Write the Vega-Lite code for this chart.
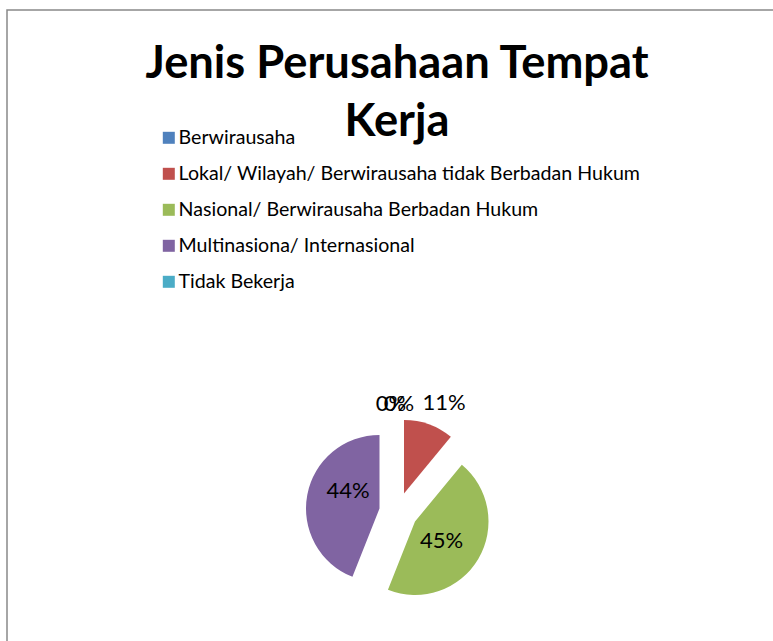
{
  "$schema": "https://vega.github.io/schema/vega-lite/v6.json",
  "width": 768,
  "height": 633,
  "autosize": "none",
  "padding": {"left": 7, "top": 10, "right": -2, "bottom": -2},
  "background": "white",
  "view": {"stroke": "#898989", "strokeWidth": 1.5},
  "config": {"view": {"stroke": "#898989", "strokeWidth": 1.5}, "style": {"cell": {"stroke": "#898989", "strokeWidth": 1.5}}, "font": "Lato"},
  "title": {
    "text": ["Jenis Perusahaan Tempat", "Kerja"],
    "font": "Lato",
    "fontSize": 45.3,
    "fontWeight": "bold",
    "color": "black",
    "anchor": "middle",
    "frame": "group",
    "lineHeight": 58,
    "orient": "top",
    "baseline": "alphabetic",
    "offset": -171,
    "dx": 6
  },
  "data": {
    "values": [
      {"category": "Berwirausaha", "share": 0, "order": 1},
      {"category": "Lokal/ Wilayah/ Berwirausaha tidak Berbadan Hukum", "share": 0.11, "order": 2},
      {"category": "Nasional/ Berwirausaha Berbadan Hukum", "share": 0.45, "order": 3},
      {"category": "Multinasiona/ Internasional", "share": 0.44, "order": 4},
      {"category": "Tidak Bekerja", "share": 0, "order": 5}
    ]
  },
  "transform": [
    {"stack": "share", "groupby": [], "sort": [{"field": "order"}], "as": ["s0", "s1"]}
  ],
  "layer": [
    {
      "transform": [{"filter": "datum.order === 2"}],
      "mark": {"type": "arc", "radius": 73.5, "xOffset": 13, "yOffset": 167},
      "encoding": {
        "theta": {"field": "s0", "type": "quantitative", "scale": {"domain": [0, 1]}},
        "theta2": {"field": "s1"},
        "color": {
          "field": "category", "type": "nominal",
          "scale": {
            "domain": ["Berwirausaha", "Lokal/ Wilayah/ Berwirausaha tidak Berbadan Hukum", "Nasional/ Berwirausaha Berbadan Hukum", "Multinasiona/ Internasional", "Tidak Bekerja"],
            "range": ["#4F81BD", "#C0504D", "#9BBB59", "#8064A2", "#4BACC6"]
          },
          "sort": null,
          "legend": {
            "orient": "none", "legendX": 152, "legendY": 118, "title": null,
            "symbolType": "square", "symbolSize": 144, "symbolStrokeWidth": 0, "symbolOpacity": 1,
            "labelFont": "Lato", "labelFontSize": 19.6, "labelColor": "black", "labelLimit": 0,
            "rowPadding": 15, "labelOffset": 0
          }
        }
      }
    },
    {
      "transform": [{"filter": "datum.order === 3"}],
      "mark": {"type": "arc", "radius": 73.5, "xOffset": 24, "yOffset": 195},
      "encoding": {
        "theta": {"field": "s0", "type": "quantitative", "scale": {"domain": [0, 1]}},
        "theta2": {"field": "s1"},
        "color": {"field": "category", "type": "nominal"}
      }
    },
    {
      "transform": [{"filter": "datum.order === 4"}],
      "mark": {"type": "arc", "radius": 73.5, "xOffset": -11.5, "yOffset": 182},
      "encoding": {
        "theta": {"field": "s0", "type": "quantitative", "scale": {"domain": [0, 1]}},
        "theta2": {"field": "s1"},
        "color": {"field": "category", "type": "nominal"}
      }
    },
    {
      "mark": {"type": "text", "radius": 96, "xOffset": 0, "yOffset": 173.5, "fontSize": 22, "font": "Lato", "color": "black"},
      "encoding": {
        "theta": {"field": "share", "type": "quantitative", "stack": true, "scale": {"domain": [0, 1]}},
        "order": {"field": "order", "type": "quantitative"},
        "text": {"condition": {"test": "datum.order === 1", "field": "share", "type": "quantitative", "format": ".0%"}, "value": ""}
      }
    },
    {
      "mark": {"type": "text", "radius": 96, "xOffset": 20.5, "yOffset": 166.8, "fontSize": 22, "font": "Lato", "color": "black"},
      "encoding": {
        "theta": {"field": "share", "type": "quantitative", "stack": true, "scale": {"domain": [0, 1]}},
        "order": {"field": "order", "type": "quantitative"},
        "text": {"condition": {"test": "datum.order === 2", "field": "share", "type": "quantitative", "format": ".0%"}, "value": ""}
      }
    },
    {
      "mark": {"type": "text", "radius": 40, "xOffset": 16.1, "yOffset": 194.1, "fontSize": 22, "font": "Lato", "color": "black"},
      "encoding": {
        "theta": {"field": "share", "type": "quantitative", "stack": true, "scale": {"domain": [0, 1]}},
        "order": {"field": "order", "type": "quantitative"},
        "text": {"condition": {"test": "datum.order === 3", "field": "share", "type": "quantitative", "format": ".0%"}, "value": ""}
      }
    },
    {
      "mark": {"type": "text", "radius": 40, "xOffset": -3.7, "yOffset": 172, "fontSize": 22, "font": "Lato", "color": "black"},
      "encoding": {
        "theta": {"field": "share", "type": "quantitative", "stack": true, "scale": {"domain": [0, 1]}},
        "order": {"field": "order", "type": "quantitative"},
        "text": {"condition": {"test": "datum.order === 4", "field": "share", "type": "quantitative", "format": ".0%"}, "value": ""}
      }
    },
    {
      "mark": {"type": "text", "radius": 96, "xOffset": 8, "yOffset": 173.5, "fontSize": 22, "font": "Lato", "color": "black"},
      "encoding": {
        "theta": {"field": "share", "type": "quantitative", "stack": true, "scale": {"domain": [0, 1]}},
        "order": {"field": "order", "type": "quantitative"},
        "text": {"condition": {"test": "datum.order === 5", "field": "share", "type": "quantitative", "format": ".0%"}, "value": ""}
      }
    }
  ]
}
